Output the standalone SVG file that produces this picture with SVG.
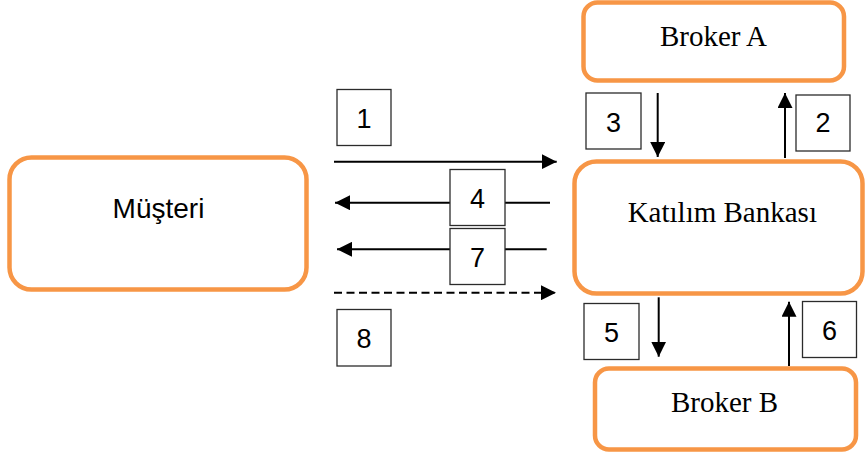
<svg xmlns="http://www.w3.org/2000/svg" width="865" height="457" viewBox="0 0 865 457">
  <style>
    .node { fill: #ffffff; stroke: #F79646; stroke-width: 4.5; }
    .serif { font-family: "Liberation Serif", "Times New Roman", serif; font-size: 29px; fill: #000; text-anchor: middle; }
    .sans { font-family: "Liberation Sans", Arial, sans-serif; fill: #000; text-anchor: middle; }
    .lbl { fill: #ffffff; stroke: #2b2b2b; stroke-width: 1.3; }
    .num { font-family: "Liberation Sans", Arial, sans-serif; font-size: 27px; fill: #000; text-anchor: middle; }
    .conn { fill: none; stroke: #000; stroke-width: 2; marker-end: url(#ah); }
    .dash { stroke-dasharray: 8 4.5; }
  </style>
  <defs>
    <marker id="ah" viewBox="0 0 15 15" markerWidth="15" markerHeight="15" refX="15" refY="7.5" orient="auto" markerUnits="userSpaceOnUse">
      <path d="M0,0 L15,7.5 L0,15 Z" fill="#000" stroke="none"/>
    </marker>
  </defs>
  <rect width="865" height="457" fill="#ffffff"/>

  <g id="musteri">
    <rect class="node" x="9.5" y="157.5" width="297" height="132" rx="22" ry="22"/>
    <text class="sans" x="158.5" y="218" font-size="28">Müşteri</text>
  </g>
  <g id="broker-a">
    <rect class="node" x="583.5" y="2.5" width="260.5" height="78" rx="14" ry="14"/>
    <text class="serif" x="713.5" y="45.7">Broker A</text>
  </g>
  <g id="katilim-bankasi">
    <rect class="node" x="574.5" y="161.5" width="288" height="132" rx="22" ry="22"/>
    <text class="serif" x="722.3" y="221.7">Katılım Bankası</text>
  </g>
  <g id="broker-b">
    <rect class="node" x="595" y="368.5" width="261" height="81" rx="14" ry="14"/>
    <text class="serif" x="724.5" y="411.7">Broker B</text>
  </g>

  <g id="connectors">
    <path id="c1" class="conn" d="M334,161.7 H556.7"/>
    <path id="c4" class="conn" d="M550,202.7 H335"/>
    <path id="c7" class="conn" d="M546.7,249.3 H337"/>
    <path id="c8" class="conn dash" d="M334,292.7 H556"/>
    <path id="c3" class="conn" d="M657.7,93 V157"/>
    <path id="c2" class="conn" d="M785,158 V93"/>
    <path id="c5" class="conn" d="M658.7,297.3 V356.7"/>
    <path id="c6" class="conn" d="M789,366 V301.7"/>
  </g>

  <g id="label-1">
    <rect class="lbl" x="337" y="89.5" width="54" height="56"/>
    <text class="num" x="364" y="127.7">1</text>
  </g>
  <g id="label-2">
    <rect class="lbl" x="796" y="95" width="54" height="56"/>
    <text class="num" x="823" y="132">2</text>
  </g>
  <g id="label-3">
    <rect class="lbl" x="586" y="93" width="55" height="56"/>
    <text class="num" x="613.5" y="131.7">3</text>
  </g>
  <g id="label-4">
    <rect class="lbl" x="450" y="169.5" width="55" height="56"/>
    <text class="num" x="477.5" y="207.7">4</text>
  </g>
  <g id="label-5">
    <rect class="lbl" x="584" y="303.5" width="55" height="56"/>
    <text class="num" x="611.5" y="341.7">5</text>
  </g>
  <g id="label-6">
    <rect class="lbl" x="802.5" y="301.5" width="54" height="56"/>
    <text class="num" x="829.5" y="339.5">6</text>
  </g>
  <g id="label-7">
    <rect class="lbl" x="450" y="228.5" width="55" height="56"/>
    <text class="num" x="477.5" y="266.7">7</text>
  </g>
  <g id="label-8">
    <rect class="lbl" x="337" y="309.5" width="54" height="56.5"/>
    <text class="num" x="364" y="348.3">8</text>
  </g>
</svg>
